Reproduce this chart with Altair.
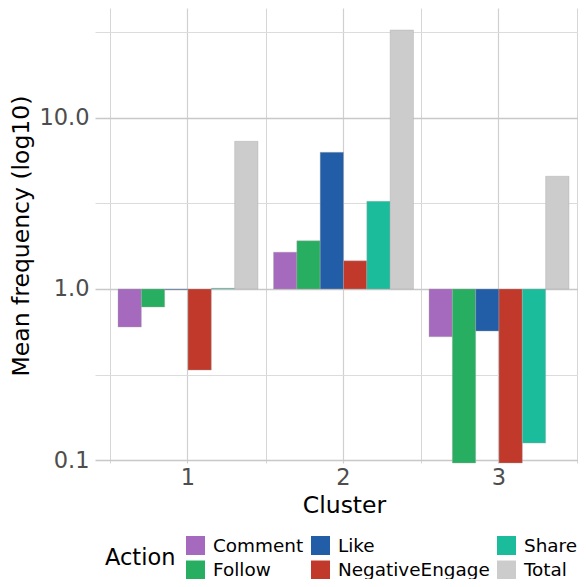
import altair as alt
import pandas as pd

clusters = ["1", "2", "3"]
actions = ["Comment", "Follow", "Like", "NegativeEngage", "Share", "Total"]
cluster1 = [0.60, 0.785, 0.99, 0.336, 1.01, 7.28]
cluster2 = [1.64, 1.91, 6.28, 1.46, 3.25, 32.5]
cluster3 = [0.526, 0.09, 0.568, 0.09, 0.126, 4.55]
colors = ["#a569bd", "#27ae60", "#225ea8", "#c0392b", "#1abc9c", "#cccccc"]
y_major = [0.1, 1.0, 10.0]
y_minor = [0.316, 3.16, 31.6]

rows = []
for c, vals in zip(clusters, [cluster1, cluster2, cluster3]):
    for a, v in zip(actions, vals):
        rows.append({"Cluster": c, "Action": a, "Mean": v})
df = pd.DataFrame(rows)

legend_order = ["Comment", "Like", "Share", "Follow", "NegativeEngage", "Total"]
legend_colors = [colors[actions.index(a)] for a in legend_order]

FONT = "DejaVu Sans"
major_test = "indexof([0.1, 1, 10], datum.value) >= 0"

xscale = alt.Scale(domain=clusters, paddingInner=0, paddingOuter=0.05305, align=0.924)
yscale = alt.Scale(type="log", domain=[0.0964, 43.7], nice=False, clamp=True)

grid_layer = alt.Chart(df).mark_rule(opacity=0).encode(
    x=alt.X("Cluster:N", scale=xscale,
            axis=alt.Axis(orient="top", tickBand="extent", grid=True, labels=False,
                          ticks=False, domain=False, title=None,
                          gridColor="#d6d6d6", gridWidth=1.0))
)

bars = alt.Chart(df).mark_bar(stroke="#aaaaaa", strokeWidth=0.4).encode(
    x=alt.X("Cluster:N", scale=xscale,
            axis=alt.Axis(title="Cluster", orient="bottom", grid=True, ticks=False,
                          domain=False, labelAngle=0, labelFontSize=22.5,
                          labelColor="#4d4d4d", labelPadding=3, labelFont=FONT,
                          titleFontSize=23.5, titleColor="#000000", titleFont=FONT,
                          titleFontWeight="normal", titlePadding=5, titleX=249,
                          gridColor="#d0d0d0", gridWidth=1.2)),
    xOffset=alt.XOffset("Action:N", sort=actions,
                        scale=alt.Scale(domain=actions, paddingInner=0, paddingOuter=1 / 3)),
    y=alt.Y("Mean:Q", scale=yscale,
            axis=alt.Axis(title="Mean frequency (log10)", values=sorted(y_major + y_minor),
                          labelExpr=major_test + " ? format(datum.value, '.1f') : ''",
                          grid=True, ticks=False, domain=False,
                          labelFontSize=22.5, labelColor="#4d4d4d", labelPadding=6,
                          labelFont=FONT, titleFontSize=23.5, titleColor="#000000",
                          titleFont=FONT, titleFontWeight="normal", titlePadding=5,
                          gridColor={"condition": {"test": major_test, "value": "#c8c8c8"}, "value": "#dcdcdc"},
                          gridWidth={"condition": {"test": major_test, "value": 1.6}, "value": 1.0})),
    y2=alt.datum(1),
    color=alt.Color("Action:N",
                    scale=alt.Scale(domain=legend_order, range=legend_colors),
                    legend=alt.Legend(title="Action", orient="none", legendX=10, legendY=528,
                                      direction="horizontal", columns=3, titleOrient="left",
                                      titleAnchor="middle", titleFontSize=22.5, titleFont=FONT,
                                      titleFontWeight="normal", titleColor="#000000",
                                      titlePadding=10, labelFontSize=18.4, labelFont=FONT,
                                      labelColor="#000000", symbolType="square", symbolSize=361,
                                      symbolStrokeWidth=0, symbolOpacity=1, rowPadding=5.5,
                                      columnPadding=7, labelOffset=8)),
)

chart = alt.layer(grid_layer, bars).resolve_axis(x="independent").properties(
    width=483, height=455,
    padding={"left": 87, "top": 0, "right": 0, "bottom": 116},
    autosize="none",
    background="white",
).configure_view(stroke=None)

chart.save("out.html", embed_options={"renderer": "svg", "actions": False})
